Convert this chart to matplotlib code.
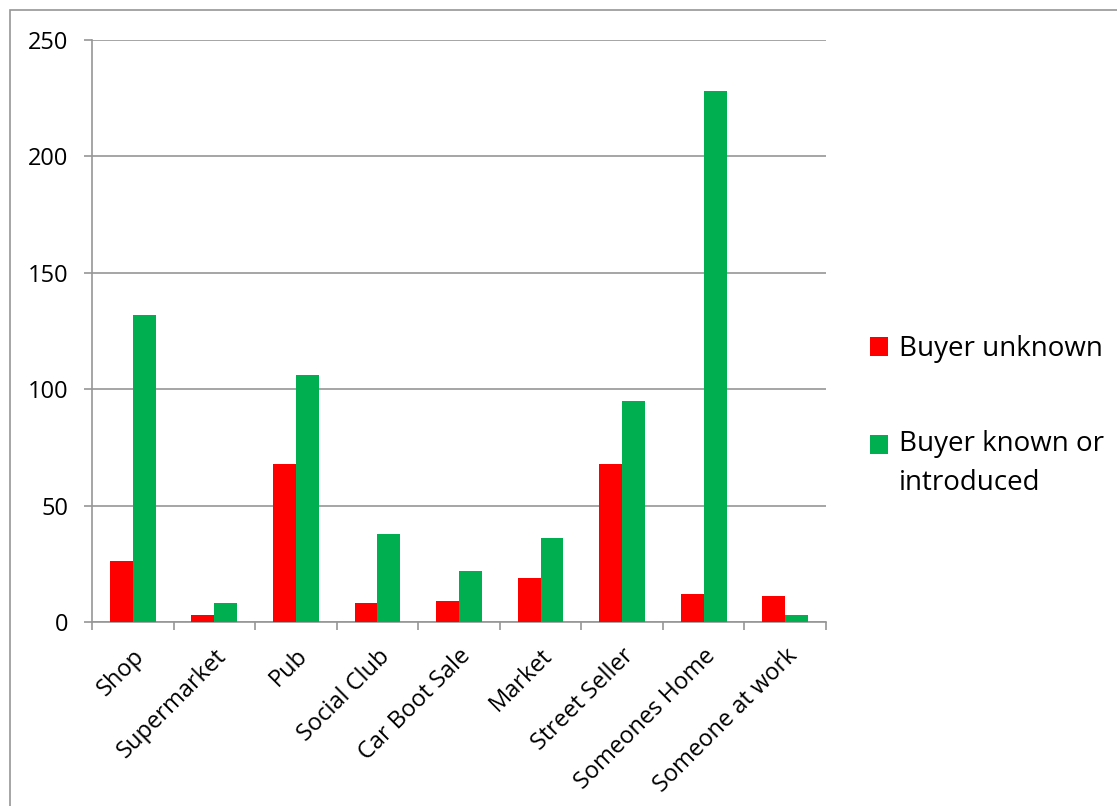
import numpy as np
import matplotlib
matplotlib.use("Agg")
from matplotlib import pyplot as plt
from matplotlib.patches import Rectangle

plt.rcParams['font.family'] = ['Open Sans', 'DejaVu Sans']

categories = ["Shop", "Supermarket", "Pub", "Social Club", "Car Boot Sale",
              "Market", "Street Seller", "Someones Home", "Someone at work"]
buyer_unknown = [26, 3, 68, 8, 9, 19, 68, 12, 11]
buyer_known = [132, 8, 106, 38, 22, 36, 95, 228, 3]
series_names = ["Buyer unknown", "Buyer known or\nintroduced"]

red = "#ff0000"
green = "#00b050"
grey = "#969696"

fig = plt.figure(figsize=(11.17, 8.06), dpi=100)
# chart frame
fig.patches.append(Rectangle((10/1117, -0.01), 1.02, 1 - 10/806 + 0.01,
                             transform=fig.transFigure, fill=False,
                             edgecolor=grey, linewidth=1.2))

ax = fig.add_axes([92/1117, (806-622)/806, (826-92)/1117, (622-40)/806])

x = np.arange(len(categories))
w = 0.28
ax.bar(x - w/2, buyer_unknown, w, color=red, label=series_names[0], zorder=3)
ax.bar(x + w/2, buyer_known, w, color=green, label=series_names[1], zorder=3)

ax.set_xlim(-0.5, len(categories) - 0.5)
ax.set_ylim(0, 250)
ax.set_yticks(np.arange(0, 251, 50))
ax.yaxis.grid(True, color=grey, linewidth=1.2, zorder=0)

ax.set_xticks(x)
ax.set_xticklabels(categories, rotation=45, ha='right', rotation_mode='anchor',
                   fontsize=17)
ax.set_xticks(np.arange(-0.5, len(categories)), minor=True)
ax.tick_params(axis='x', which='major', length=0, pad=16)
ax.tick_params(axis='x', which='minor', length=6, color=grey, width=1.2)
ax.tick_params(axis='y', length=6, color=grey, width=1.2, labelsize=17, pad=11)

for s in ['top', 'right']:
    ax.spines[s].set_visible(False)
for s in ['left', 'bottom']:
    ax.spines[s].set_color(grey)
    ax.spines[s].set_linewidth(1.2)

leg = ax.legend(loc='upper left', bbox_to_anchor=(870/1117, 1 - 335/806),
                bbox_transform=fig.transFigure, frameon=False,
                fontsize=20, handlelength=0.65, handleheight=0.65,
                handletextpad=0.4, labelspacing=2.4,
                borderpad=0, borderaxespad=0)
for t in leg.get_texts():
    t.set_linespacing(1.55)
# keep the second swatch level with the first line of its label
h = leg.legend_handles[1]
h.set_y(h.get_y() + 14)

fig.savefig("out.png", dpi=100)
